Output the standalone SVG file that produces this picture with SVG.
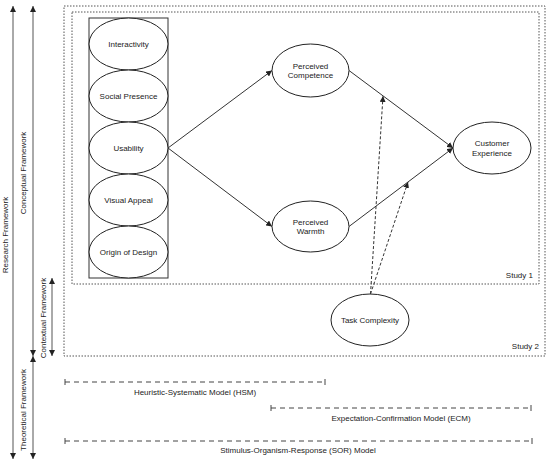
<svg xmlns="http://www.w3.org/2000/svg" width="550" height="464" viewBox="0 0 550 464">
<style>
  text { font-family: "Liberation Sans", Arial, sans-serif; font-size: 8px; fill: #222; }
  .c { text-anchor: middle; dominant-baseline: central; }
  .node { fill: #fff; stroke: #222; stroke-width: 1; }
  .box { fill: none; stroke: #555; stroke-width: 1; stroke-dasharray: 1.5 1.5; }
  .edge { fill: none; stroke: #333; stroke-width: 1; }
  .mod { fill: none; stroke: #333; stroke-width: 1; stroke-dasharray: 3 2; }
  .side { fill: none; stroke: #555; stroke-width: 1; }
  .model { fill: none; stroke: #444; stroke-width: 1; stroke-dasharray: 5 4; }
  .tick { fill: none; stroke: #444; stroke-width: 1; }
</style>
<defs>
  <marker id="ah" viewBox="0 0 6 6" refX="6" refY="3" markerWidth="6" markerHeight="6" markerUnits="userSpaceOnUse" orient="auto-start-reverse">
    <path d="M0,0 L6,3 L0,6 z" fill="#222"/>
  </marker>
</defs>

<g id="study2">
  <rect class="box" x="64" y="6" width="481" height="350"/>
  <text x="539" y="349" text-anchor="end">Study 2</text>
</g>
<g id="study1">
  <rect class="box" x="72" y="12" width="467" height="272"/>
  <text x="533" y="278" text-anchor="end">Study 1</text>
</g>

<g id="stimuli">
  <rect x="89" y="18" width="79" height="260" fill="#fff" stroke="#333" stroke-width="1"/>
</g>
<g id="interactivity"><ellipse class="node" cx="128.5" cy="44" rx="39.5" ry="26"/><text class="c" x="128.5" y="44">Interactivity</text></g>
<g id="social-presence"><ellipse class="node" cx="128.5" cy="96" rx="39.5" ry="26"/><text class="c" x="128.5" y="96">Social Presence</text></g>
<g id="usability"><ellipse class="node" cx="128.5" cy="148" rx="39.5" ry="26"/><text class="c" x="128.5" y="148">Usability</text></g>
<g id="visual-appeal"><ellipse class="node" cx="128.5" cy="200" rx="39.5" ry="26"/><text class="c" x="128.5" y="200">Visual Appeal</text></g>
<g id="origin-of-design"><ellipse class="node" cx="128.5" cy="252" rx="39.5" ry="26"/><text class="c" x="128.5" y="252">Origin of Design</text></g>

<g id="perceived-competence"><ellipse class="node" cx="310.5" cy="70.5" rx="38.5" ry="26.5"/><text class="c" x="310.5" y="66">Perceived</text><text class="c" x="310.5" y="75.5">Competence</text></g>
<g id="perceived-warmth"><ellipse class="node" cx="310.5" cy="226.5" rx="38.5" ry="25.5"/><text class="c" x="310.5" y="222">Perceived</text><text class="c" x="310.5" y="231.5">Warmth</text></g>
<g id="customer-experience"><ellipse class="node" cx="492" cy="148" rx="39" ry="26"/><text class="c" x="492" y="143.5">Customer</text><text class="c" x="492" y="153">Experience</text></g>
<g id="task-complexity"><ellipse class="node" cx="370" cy="320" rx="39" ry="26"/><text class="c" x="370" y="320">Task Complexity</text></g>

<g id="connectors">
  <line class="edge" x1="168" y1="148" x2="272" y2="70.5" marker-end="url(#ah)"/>
  <line class="edge" x1="168" y1="148" x2="272" y2="226.5" marker-end="url(#ah)"/>
  <line class="edge" x1="349" y1="70.5" x2="453" y2="148" marker-end="url(#ah)"/>
  <line class="edge" x1="349" y1="226.5" x2="453" y2="148" marker-end="url(#ah)"/>
  <line class="mod" x1="370.5" y1="294" x2="383" y2="96" marker-end="url(#ah)"/>
  <line class="mod" x1="370.5" y1="294" x2="408" y2="182" marker-end="url(#ah)"/>
</g>

<g id="frameworks">
  <line class="side" x1="13" y1="6" x2="13" y2="459" marker-start="url(#ah)" marker-end="url(#ah)"/>
  <text class="c" transform="translate(5,235) rotate(-90)">Research Framework</text>
  <line class="side" x1="33" y1="6" x2="33" y2="356" marker-start="url(#ah)" marker-end="url(#ah)"/>
  <text class="c" transform="translate(23,173) rotate(-90)">Conceptual Framework</text>
  <line class="side" x1="33" y1="356" x2="33" y2="459" marker-start="url(#ah)" marker-end="url(#ah)"/>
  <text class="c" transform="translate(23,410) rotate(-90)">Theoretical Framework</text>
  <line class="side" x1="52" y1="278" x2="52" y2="356" marker-start="url(#ah)" marker-end="url(#ah)"/>
  <text class="c" transform="translate(43,318) rotate(-90)">Contextual Framework</text>
</g>

<g id="models">
  <line class="model" x1="65" y1="382" x2="325" y2="382"/>
  <line class="tick" x1="65" y1="379" x2="65" y2="385"/>
  <line class="tick" x1="325" y1="379" x2="325" y2="385"/>
  <text class="c" x="195" y="392">Heuristic-Systematic Model (HSM)</text>

  <line class="model" x1="271" y1="408" x2="531" y2="408"/>
  <line class="tick" x1="271" y1="405" x2="271" y2="411"/>
  <line class="tick" x1="531" y1="405" x2="531" y2="411"/>
  <text class="c" x="401" y="418">Expectation-Confirmation Model (ECM)</text>

  <line class="model" x1="65" y1="441" x2="532" y2="441"/>
  <line class="tick" x1="65" y1="438" x2="65" y2="444"/>
  <line class="tick" x1="532" y1="438" x2="532" y2="444"/>
  <text class="c" x="298" y="450">Stimulus-Organism-Response (SOR) Model</text>
</g>
</svg>
